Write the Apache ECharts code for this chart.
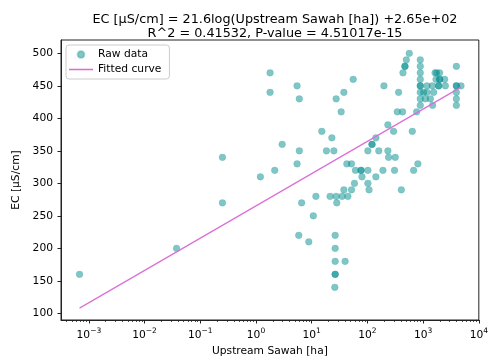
<!DOCTYPE html>
<html><head><meta charset="utf-8">
<script src="https://cdn.jsdelivr.net/npm/echarts@6/dist/echarts.min.js"></script>
<style>html,body{margin:0;padding:0;background:#fff}#c{width:491px;height:362px}</style>
</head><body><div id="c"></div>
<script>
const titleLine1 = 'EC [µS/cm] = 21.6log(Upstream Sawah [ha]) +2.65e+02';
const titleLine2 = 'R^2 = 0.41532, P-value = 4.51017e-15';
const xName = 'Upstream Sawah [ha]';
const yName = 'EC [µS/cm]';
const seriesNames = ['Raw data', 'Fitted curve'];

const rawX = [
  0.00068, 0.0375, 0.25, 0.25, 1.2, 1.79, 1.79, 2.17, 2.95, 5.46,
  6.0, 5.46, 6.0, 6.6, 5.86, 8.87, 10.7, 11.9, 15.2, 23,
  18.4, 25, 27.5, 37.8, 33.8, 55.6, 21.4, 27.5, 35.2, 44.6,
  28.2, 37.8, 51.8, 58.6, 42.7, 51.8, 61, 77, 77, 102,
  80, 102, 107, 142, 190, 307, 240, 316, 102, 160,
  233, 121, 121, 142, 233, 295, 640, 675, 805, 407,
  344, 428, 766, 198, 363, 435, 472, 472, 500, 565,
  890, 890, 890, 890, 890, 890, 890, 890, 890,
  1175, 1463, 1900, 1900, 2510, 1640, 1750, 1980, 1706, 1980,
  1980, 2437, 1020, 1175, 1545, 1097, 1350, 1480,
  3955, 3955, 3955, 4790, 3955, 3955, 3955,
  26.4, 26.4, 26.4, 39.8, 26.4, 26.4, 26
];
const rawY = [
  160, 200, 340, 270, 310, 470, 440, 320, 360, 450,
  430, 330, 350, 270, 220, 210, 250, 280, 380, 370,
  350, 350, 430, 440, 410, 460, 280, 280, 280, 280,
  270, 290, 290, 300, 330, 330, 320, 320, 320, 320,
  310, 300, 290, 310, 320, 320, 340, 340, 350, 350,
  350, 360, 360, 370, 390, 380, 380, 320, 330, 290,
  410, 410, 410, 450, 440, 470, 480, 480, 490, 500,
  490, 480, 470, 460, 450, 450, 440, 430, 420,
  450, 450, 450, 450, 450, 470, 470, 470, 460, 460,
  460, 460, 440, 440, 440, 430, 430, 420,
  480, 450, 450, 450, 440, 430, 420,
  220, 200, 180, 180, 160, 160, 140
];
const fitX = [0.00068, 4790];
const fitY = [108, 448];

const xMajorTicks = [1e-3, 1e-2, 1e-1, 1e0, 1e1, 1e2, 1e3, 1e4];
const xMinorMult = [2, 3, 4, 5, 6, 7, 8, 9];
const yTicks = [100, 150, 200, 250, 300, 350, 400, 450, 500];

const X_MIN = Math.pow(10, -3.5), X_MAX = 1e4;
const Y_MIN = 89.7, Y_MAX = 520.5;

const xMinorTicks = [];
[1e-4].concat(xMajorTicks).forEach(b => xMinorMult.forEach(m => {
  const v = b * m; if (v > X_MIN && v < X_MAX) xMinorTicks.push(v);
}));

const FONT = 'DejaVu Sans';
const LINE_COLOR = '#DA70D6';
const chart = echarts.init(document.getElementById('c'), null, {renderer: 'canvas'});
const rawData = rawX.map((x, i) => [x, rawY[i]]);
const fitData = fitX.map((x, i) => [x, fitY[i]]);

function expLabel(v) {
  const e = Math.round(Math.log10(v));
  return '{b|10}{s|' + String(e).replace('-', '\u2212') + '}';
}

chart.setOption({
  animation: false,
  backgroundColor: '#fff',
  title: {
    text: titleLine1 + '\n' + titleLine2,
    left: 270, top: 8, textAlign: 'center',
    textStyle: {fontFamily: FONT, fontSize: 12.8, fontWeight: 'normal', color: '#000', lineHeight: 14}
  },
  legend: {
    orient: 'vertical', left: 66, top: 45,
    data: [
      {name: seriesNames[0], icon: 'circle'},
      {name: seriesNames[1], icon: 'path://M0,0L40,0L40,2.6L0,2.6Z', itemStyle: {color: LINE_COLOR}}
    ],
    itemWidth: 24, itemHeight: 7, itemGap: 4,
    padding: [4, 8, 4, 3],
    backgroundColor: 'rgba(255,255,255,0.8)', borderColor: '#cccccc', borderWidth: 1, borderRadius: 3,
    textStyle: {fontFamily: FONT, fontSize: 10.7, color: '#000'}
  },
  grid: {left: 61, right: 12, top: 40, bottom: 42, show: true, borderColor: '#222', borderWidth: 1, backgroundColor: 'transparent'},
  xAxis: [{
    type: 'log', min: X_MIN, max: X_MAX, logBase: 10,
    name: xName, nameLocation: 'middle', nameGap: 25,
    nameTextStyle: {fontFamily: FONT, fontSize: 10.7, color: '#000'},
    axisLine: {show: true, lineStyle: {color: '#222', width: 1}},
    axisTick: {show: true, inside: false, length: 3.5, lineStyle: {color: '#222', width: 1}, customValues: xMajorTicks},
    axisLabel: {
      customValues: xMajorTicks, margin: 7, formatter: expLabel,
      rich: {
        b: {fontFamily: FONT, fontSize: 10.7, color: '#000', lineHeight: 14, verticalAlign: 'bottom'},
        s: {fontFamily: FONT, fontSize: 7.5, color: '#000', lineHeight: 14, verticalAlign: 'top', padding: [0, 0, 5, 0]}
      }
    },
    splitLine: {show: false}, minorTick: {show: false}
  }, {
    type: 'log', min: X_MIN, max: X_MAX, logBase: 10, position: 'bottom', gridIndex: 0,
    axisLine: {show: false},
    axisTick: {show: true, length: 2, lineStyle: {color: '#222', width: 0.8}, customValues: xMinorTicks},
    axisLabel: {show: false}, splitLine: {show: false}
  }],
  yAxis: {
    type: 'value', min: Y_MIN, max: Y_MAX,
    name: yName, nameLocation: 'middle', nameGap: 34, nameRotate: 90,
    nameTextStyle: {fontFamily: FONT, fontSize: 10.7, color: '#000'},
    axisLine: {show: true, lineStyle: {color: '#222', width: 1}},
    axisTick: {show: true, length: 3.5, lineStyle: {color: '#222', width: 1}, customValues: yTicks},
    axisLabel: {customValues: yTicks, margin: 8, fontFamily: FONT, fontSize: 10.7, color: '#000'},
    splitLine: {show: false}
  },
  series: [{
    name: seriesNames[0], type: 'scatter', xAxisIndex: 0, data: rawData,
    symbol: 'circle', symbolSize: 6.8,
    itemStyle: {color: 'rgba(0,139,139,0.62)', borderColor: 'rgba(0,139,139,0.3)', borderWidth: 0.6}
  }, {
    name: seriesNames[1], type: 'line', xAxisIndex: 0, data: fitData,
    symbol: 'none', lineStyle: {color: LINE_COLOR, width: 1.2},
    itemStyle: {color: LINE_COLOR}, z: 3
  }]
});
</script></body></html>
